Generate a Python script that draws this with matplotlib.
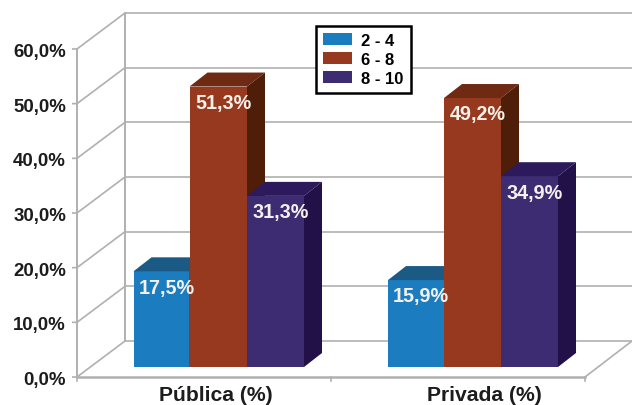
import matplotlib
matplotlib.use("Agg")
import matplotlib.pyplot as plt
from matplotlib import font_manager as fm
from matplotlib.patches import Patch, Polygon

categories = ["Pública (%)", "Privada (%)"]
series_names = ["2 - 4", "6 - 8", "8 - 10"]
publica = [17.5, 51.3, 31.3]
privada = [15.9, 49.2, 34.9]
y_ticks = [0, 10, 20, 30, 40, 50, 60]

W, H = 632, 406
PX = 5.467                # pixels per percentage point
Y0 = 378                  # pixel row of the zero line

front_face = ["#1b7cc0", "#96391e", "#3d2c72"]
top_face = ["#1a5a85", "#6e2a12", "#2c1a5c"]
side_face = ["#17486b", "#4f1e08", "#221048"]
GRID = "#b0b0b0"

fig = plt.figure(figsize=(W / 100, H / 100), dpi=100, facecolor="white")
ax = fig.add_axes([0, 0, 1, 1])
ax.set_xlim(0, W)
ax.set_ylim(-(H - Y0) / PX, Y0 / PX)
ax.axis("off")

# Oblique projection of the chart box
wall_dx, wall_dy = 48, 36 / PX
left, right = 77, 585
for v in y_ticks:
    ax.plot([left - 5, left, left + wall_dx], [v, v, v + wall_dy],
            color=GRID, lw=1.2, solid_capstyle="butt", zorder=1)
    ax.plot([left + wall_dx, W], [v + wall_dy, v + wall_dy],
            color=GRID, lw=1.2, solid_capstyle="butt", zorder=1)
    ax.text(66, v - 2.5 / PX, f"{v:.1f}%".replace(".", ","), ha="right", va="center",
            family="Liberation Sans", weight="bold", fontsize=13.4, color="#1c1c1c")
ax.plot([left, left], [0, 60], color=GRID, lw=1.4, zorder=1)
ax.plot([left + wall_dx] * 2, [wall_dy, 60 + wall_dy], color=GRID, lw=1.4, zorder=1)

# Floor edge and category ticks
ax.plot([left, right], [0, 0], color=GRID, lw=1.8, zorder=1)
ax.plot([right, right + 47], [0, 36 / PX], color=GRID, lw=1.2, zorder=1)
for xt in (left, 331, right):
    ax.plot([xt, xt], [0, -4 / PX], color=GRID, lw=1.2, zorder=1)

# Bars in three dimensions: front, top and side faces
bar_dx, bar_dy = 18, 14 / PX
floor = 10 / PX
edges = [[133.5, 189.5, 247, 304], [388, 444, 501, 558]]
centers = [216, 484.5]


def draw_bar(x0, x1, value, idx):
    top = floor + value
    ax.add_patch(Polygon([(x0, floor), (x1, floor), (x1, top), (x0, top)],
                         fc=front_face[idx], ec="none", zorder=3 + idx))
    ax.add_patch(Polygon([(x0, top), (x1, top), (x1 + bar_dx, top + bar_dy),
                          (x0 + bar_dx, top + bar_dy)],
                         fc=top_face[idx], ec="none", zorder=3 + idx))
    ax.add_patch(Polygon([(x1, floor), (x1 + bar_dx, floor + bar_dy),
                          (x1 + bar_dx, top + bar_dy), (x1, top)],
                         fc=side_face[idx], ec="none", zorder=3 + idx))


for g, (values, xs) in enumerate(zip([publica, privada], edges)):
    for i, v in enumerate(values):
        draw_bar(xs[i], xs[i + 1], v, i)
    for i, v in enumerate(values):
        ax.text((xs[i] + xs[i + 1]) / 2 + 5, floor + v - 2.9,
                f"{v:.1f}%".replace(".", ","), ha="center", va="center",
                family="Liberation Sans", weight="bold", fontsize=14.2,
                color="#f4f0ea", zorder=10)
    ax.text(centers[g], -18 / PX, categories[g], ha="center", va="center",
            family="Liberation Sans", weight="bold", fontsize=15.2, color="#1c1c1c")

handles = [Patch(fc=c, ec="none") for c in front_face]
leg = ax.legend(handles, series_names, loc="upper left",
                bbox_to_anchor=(316 / W, 1 - 27 / H), borderaxespad=0,
                fancybox=False, framealpha=1, edgecolor="black",
                prop=fm.FontProperties(family="Liberation Sans", weight="bold", size=12),
                handlelength=1.75, handleheight=0.7, handletextpad=0.55,
                labelspacing=0.24, borderpad=0.42)
leg.get_frame().set_linewidth(1.8)
leg.set_zorder(20)

fig.savefig("out.png", dpi=100)
